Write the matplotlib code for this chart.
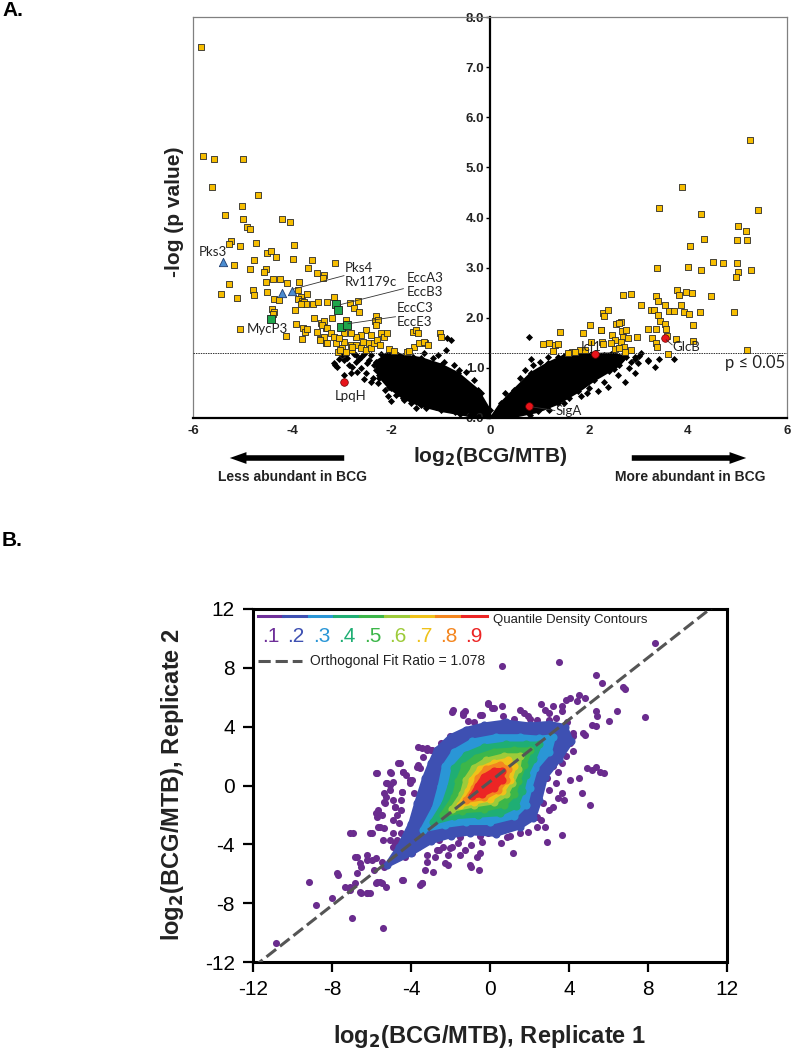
import numpy as np
import matplotlib
matplotlib.use('Agg')
import matplotlib.pyplot as plt
from matplotlib.patches import FancyArrowPatch
from matplotlib.lines import Line2D

plt.rcParams['axes.unicode_minus'] = False

W, H = 791, 1050
FONT = 'Liberation Sans'
GENE_FONT = 'Lato'

# ---------------- panel A: volcano plot data ----------------
p_cut = 1.30  # -log10(0.05)

# significant proteins (yellow squares)
sig_left = [(-5.83, 7.40), (-5.80, 5.23), (-5.57, 5.16), (-5.00, 5.17), (-5.61, 4.60), (-4.68, 4.44),
            (-5.01, 4.23), (-5.36, 4.04), (-4.98, 3.97), (-4.21, 3.98), (-4.05, 3.92), (-4.90, 3.82),
            (-4.85, 3.77), (-5.24, 3.54), (-5.28, 3.47), (-5.05, 3.44), (-4.72, 3.49), (-3.96, 3.46),
            (-5.18, 3.05), (-4.76, 3.16), (-4.50, 3.30), (-4.42, 3.34), (-4.32, 3.21), (-3.97, 3.17),
            (-3.60, 3.15), (-3.13, 3.10), (-4.84, 2.98), (-4.52, 2.98), (-4.56, 2.91), (-3.68, 2.99),
            (-3.49, 2.89), (-3.35, 2.85), (-3.38, 2.79), (-5.28, 2.68), (-5.43, 2.48), (-5.11, 2.40),
            (-4.79, 2.56), (-4.77, 2.46), (-4.53, 2.71), (-4.39, 2.77), (-4.24, 2.77), (-4.10, 2.69),
            (-3.85, 2.71), (-4.50, 2.52), (-4.37, 2.38), (-4.27, 2.36), (-3.87, 2.55), (-3.81, 2.41),
            (-3.70, 2.47), (-3.87, 2.37), (-3.80, 2.33), (-3.80, 2.29), (-3.75, 2.31), (-3.72, 2.27),
            (-3.82, 2.27), (-3.57, 2.27), (-3.48, 2.31), (-3.30, 2.31), (-3.16, 2.41), (-2.83, 2.30),
            (-2.66, 2.34), (-2.75, 2.19), (-2.65, 2.11), (-2.31, 2.04), (-2.33, 1.94), (-4.41, 2.17),
            (-4.37, 2.11), (-4.39, 2.08), (-3.93, 2.16), (-5.06, 1.78), (-4.13, 1.64), (-3.91, 1.88),
            (-3.77, 1.80), (-3.73, 1.72), (-3.70, 1.78), (-3.79, 1.58), (-3.56, 2.00), (-3.42, 1.90),
            (-3.35, 1.94), (-3.32, 1.79), (-3.39, 1.86), (-3.49, 1.72), (-3.44, 1.57), (-3.32, 1.49),
            (-3.29, 1.79), (-3.22, 1.69), (-3.16, 1.62), (-3.35, 1.62), (-3.43, 1.56), (-3.29, 1.49),
            (-3.12, 1.49), (-3.08, 1.32), (-2.98, 1.39), (-2.91, 1.32), (-2.81, 1.46), (-2.78, 1.36),
            (-2.71, 1.46), (-2.61, 1.39), (-2.56, 1.52), (-2.51, 1.36), (-2.44, 1.49), (-2.41, 1.39),
            (-2.34, 1.49), (-2.29, 1.56), (-2.23, 1.46), (-2.21, 1.69), (-2.14, 1.62), (-2.09, 1.69),
            (-2.27, 1.96), (-2.31, 1.86), (-2.51, 1.76), (-2.61, 1.66), (-2.41, 1.66), (-2.71, 1.62),
            (-2.79, 1.42), (-2.81, 1.69), (-2.95, 1.52), (-3.03, 1.36), (-2.04, 1.37), (-1.94, 1.34),
            (-1.67, 1.32), (-1.55, 1.72), (-1.50, 1.76), (-1.46, 1.69), (-1.53, 1.42), (-1.43, 1.49),
            (-1.32, 1.50), (-1.02, 1.70), (-1.00, 1.62), (-1.33, 1.52), (-1.26, 1.46), (-1.63, 1.34),
            (-2.95, 1.70), (-3.05, 1.60), (-2.90, 1.95), (-3.20, 2.00)]
sig_right = [(5.26, 5.55), (3.88, 4.61), (3.41, 4.18), (5.41, 4.15), (4.26, 4.07), (5.00, 3.83),
             (5.18, 3.73), (4.33, 3.58), (4.99, 3.55), (5.20, 3.55), (4.05, 3.43), (4.51, 3.11),
             (4.71, 3.10), (4.98, 3.10), (3.37, 2.99), (3.99, 3.02), (4.26, 2.95), (5.28, 2.95),
             (5.01, 2.91), (4.97, 2.81), (2.69, 2.46), (2.85, 2.48), (3.36, 2.44), (3.77, 2.55),
             (3.82, 2.45), (3.95, 2.51), (4.08, 2.50), (4.47, 2.44), (3.39, 2.33), (3.06, 2.26),
             (3.54, 2.26), (3.61, 2.14), (3.86, 2.26), (3.26, 2.16), (3.31, 2.15), (3.72, 2.13),
             (3.92, 2.12), (4.03, 2.08), (4.25, 2.12), (4.93, 2.12), (2.29, 2.09), (2.30, 2.03),
             (2.38, 2.16), (3.39, 2.06), (3.43, 1.94), (3.53, 1.87), (4.10, 1.85), (2.02, 1.86),
             (2.54, 1.88), (2.65, 1.92), (2.60, 1.89), (2.67, 1.74), (2.75, 1.76), (2.24, 1.75),
             (1.42, 1.72), (1.88, 1.70), (2.47, 1.66), (2.69, 1.61), (2.78, 1.60), (3.20, 1.78),
             (3.36, 1.78), (3.56, 1.78), (2.97, 1.62), (3.27, 1.59), (3.36, 1.49), (3.37, 1.42),
             (3.76, 1.57), (4.11, 1.54), (3.58, 1.64), (2.52, 1.56), (2.44, 1.49), (2.65, 1.52),
             (2.27, 1.52), (2.28, 1.47), (2.52, 1.38), (2.71, 1.42), (2.73, 1.31), (2.85, 1.36),
             (1.82, 1.36), (1.92, 1.36), (1.65, 1.32), (1.57, 1.29), (1.07, 1.47), (1.19, 1.49),
             (1.32, 1.45), (1.38, 1.47), (1.27, 1.34), (3.60, 1.28), (5.20, 1.35), (2.25, 1.76),
             (1.71, 1.32), (2.60, 1.40), (2.05, 1.52)]

# non-significant proteins: outline of the dense core plus the scattered points around it
cloud_left = [(-2.30, 1.12), (-2.10, 1.25), (-1.87, 1.26), (-1.40, 1.19), (-0.99, 1.06), (-0.65, 0.89),
              (-0.25, 0.56), (-0.01, 0.16), (0.0, 0.02), (-0.25, 0.02), (-0.60, 0.08), (-1.00, 0.15),
              (-1.40, 0.25), (-1.75, 0.40), (-2.05, 0.62), (-2.25, 0.85)]
cloud_right = [(0.02, 0.0), (0.22, 0.29), (0.49, 0.56), (0.83, 0.89), (1.17, 1.09), (1.50, 1.24),
               (2.04, 1.27), (2.45, 1.28), (2.75, 1.22), (2.60, 1.05), (2.40, 0.93), (2.11, 0.76),
               (1.78, 0.53), (1.37, 0.29), (0.97, 0.13), (0.49, 0.03), (0.20, 0.0)]
ns_left = [(-3.15, 1.09), (-3.10, 1.02), (-3.13, 1.06), (-2.88, 1.19), (-2.78, 1.02), (-2.81, 0.89),
           (-2.68, 0.92), (-2.95, 0.86), (-2.07, 0.43), (-2.00, 0.33), (-1.50, 0.19), (-0.92, 1.12),
           (-0.89, 1.36), (-0.79, 1.56), (-0.86, 1.59), (-2.61, 1.22), (-2.71, 1.12), (-2.48, 1.09),
           (-2.21, 1.02), (-2.37, 0.79), (-2.27, 0.69), (-2.00, 0.59), (-1.90, 0.46), (-1.73, 0.36),
           (-1.26, 0.29), (-1.16, 1.19), (-1.33, 1.29), (-0.72, 1.06), (-0.49, 0.92), (-0.32, 0.76),
           (-0.18, 0.49), (-0.86, 0.23), (-3.00, 1.25), (-2.90, 1.28), (-2.75, 1.27), (-2.55, 1.27),
           (-2.40, 1.26), (-2.20, 1.27), (-2.05, 1.27), (-1.85, 1.25), (-1.55, 1.22), (-1.70, 1.05),
           (-1.95, 0.95), (-2.15, 0.85), (-1.45, 0.35), (-1.10, 0.22), (-0.70, 0.12), (-0.40, 0.05),
           (-0.62, 0.95), (-1.05, 1.25), (-2.95, 1.15), (-2.85, 1.05), (-2.60, 1.00), (-2.50, 0.90),
           (-2.65, 1.18), (-2.45, 1.15), (-2.35, 1.05), (-2.30, 0.95), (-2.55, 0.78), (-2.40, 0.72),
           (-2.25, 0.80), (-3.05, 1.18), (-2.70, 1.25), (-2.20, 1.15), (-2.10, 1.20), (-1.60, 0.30),
           (-1.85, 0.50), (-1.30, 0.20), (-2.12, 0.55)]
ns_right = [(0.79, 1.62), (3.19, 1.14), (3.34, 1.02), (3.41, 1.18), (3.72, 1.18), (2.92, 1.17),
            (3.00, 1.24), (0.46, 0.44), (0.83, 1.17), (0.86, 1.06), (1.00, 1.12), (1.17, 1.22),
            (1.37, 1.22), (1.57, 1.29), (2.31, 0.72), (2.38, 0.62), (2.59, 0.86), (2.92, 0.89),
            (2.72, 0.72), (2.18, 0.53), (1.84, 0.43), (2.99, 1.09), (3.19, 1.16), (2.92, 1.22),
            (3.06, 1.29), (0.30, 0.50), (0.60, 0.80), (0.70, 0.95), (1.80, 1.28), (2.10, 1.27),
            (2.30, 1.26), (2.50, 1.28), (2.70, 1.25), (1.50, 0.30), (1.20, 0.15), (0.80, 0.05),
            (2.00, 0.60), (2.80, 1.00), (2.85, 1.12), (2.65, 1.15), (2.50, 0.98), (1.60, 0.40),
            (1.95, 0.50)]

esx3_pts = [(-3.11, 2.28), (-3.08, 2.16), (-3.02, 1.82), (-2.88, 1.86), (-4.43, 1.97)]
pks_pts = [(-5.40, 3.11), (-4.21, 2.50), (-3.99, 2.53)]
ref_pts = [(-2.94, 0.72), (2.13, 1.28), (3.54, 1.59), (0.78, 0.23)]  # LpqH, Icl1, GlcB, SigA

gene_labels = ['Pks3', 'Pks4', 'Rv1179c', 'EccA3', 'EccB3', 'EccC3', 'EccE3', 'MycP3',
               'LpqH', 'Icl1', 'GlcB', 'SigA']
label_x = [-5.88, -2.93, -2.93, -1.68, -1.68, -1.89, -1.89, -4.91, -3.13, 1.84, 3.68, 1.33]
label_y = [3.31, 2.99, 2.71, 2.80, 2.52, 2.19, 1.92, 1.78, 0.44, 1.42, 1.41, 0.13]
leaders = [((-3.98, 2.57), (-2.95, 2.84)), ((-3.03, 2.26), (-1.75, 2.58)),
           ((-2.87, 1.88), (-1.91, 2.02)), ((3.56, 1.56), (3.68, 1.46)), ((0.86, 0.22), (1.31, 0.15))]

# ---------------- panel B: replicate correlation data ----------------
fit_slope = 1.053
fit_intercept = 0.27
quantiles = ['.1', '.2', '.3', '.4', '.5', '.6', '.7', '.8', '.9']
q_colors = ['#6e2f99', '#3e50b2', '#2a96d6', '#1fae74', '#3cb649', '#9dcb3a', '#efc21a', '#f4861f', '#ec2525']

# quantile density contour outlines (.2 ... .9)
contours = [
    [(-5.2, -5.4), (-4.6, -4.2), (-4.0, -2.6), (-3.7, -1.2), (-3.3, 0.5), (-3.0, 1.5), (-2.7, 2.4),
     (-2.0, 3.3), (-1.2, 3.8), (-0.3, 4.1), (0.8, 4.3), (2.0, 4.1), (3.0, 4.2), (3.8, 4.0), (4.1, 3.0),
     (3.5, 1.8), (2.8, 0.6), (2.5, -1.0), (2.2, -2.2), (1.5, -2.8), (0.3, -3.3), (-1.0, -3.2),
     (-2.0, -3.4), (-3.0, -3.8), (-4.0, -4.6)],
    [(-3.4, -3.0), (-2.8, -1.5), (-2.5, 0.0), (-2.3, 1.3), (-1.8, 2.3), (-0.9, 3.0), (0.3, 3.3),
     (1.5, 3.3), (2.5, 3.2), (3.2, 3.3), (3.0, 2.3), (2.3, 1.2), (2.0, -0.2), (1.8, -1.3), (1.2, -2.1),
     (0.0, -2.5), (-1.2, -2.5), (-2.3, -2.7)],
    [(-2.9, -2.5), (-2.3, -1.2), (-2.0, 0.0), (-1.8, 1.2), (-1.2, 2.1), (-0.3, 2.6), (0.8, 2.8),
     (1.8, 2.8), (2.5, 2.8), (2.2, 1.8), (1.8, 0.7), (1.6, -0.4), (1.3, -1.4), (0.5, -1.9), (-0.6, -2.0),
     (-1.8, -2.1)],
    [(-2.4, -2.0), (-1.8, -0.8), (-1.6, 0.3), (-1.3, 1.3), (-0.7, 1.9), (0.2, 2.3), (1.2, 2.4),
     (2.0, 2.4), (1.7, 1.4), (1.4, 0.3), (1.2, -0.6), (0.7, -1.3), (-0.3, -1.6), (-1.4, -1.7)],
    [(-1.9, -1.6), (-1.4, -0.6), (-1.2, 0.4), (-0.8, 1.2), (-0.2, 1.7), (0.7, 2.0), (1.5, 2.0),
     (1.4, 1.1), (1.1, 0.2), (0.8, -0.6), (0.2, -1.1), (-0.8, -1.3)],
    [(-1.5, -1.3), (-1.1, -0.4), (-0.9, 0.4), (-0.5, 1.1), (0.2, 1.5), (0.9, 1.7), (1.2, 1.3),
     (1.0, 0.4), (0.6, -0.4), (0.0, -0.9), (-0.8, -1.1)],
    [(-1.2, -1.0), (-0.8, -0.2), (-0.6, 0.5), (-0.2, 1.1), (0.5, 1.4), (0.9, 1.1), (0.8, 0.4),
     (0.4, -0.3), (-0.3, -0.8)],
    [(-0.9, -0.7), (-0.6, 0.0), (-0.3, 0.6), (0.2, 1.0), (0.6, 1.0), (0.6, 0.4), (0.2, -0.2),
     (-0.4, -0.6)],
]

# points outside the contours
outliers = [(8.36, 9.70), (3.49, 8.42), (0.60, 8.15), (5.36, 7.49), (5.66, 6.97), (6.75, 6.70),
            (6.86, 6.58), (7.84, 4.65), (6.43, 5.04), (6.00, 4.36), (5.36, 5.04), (5.40, 4.70),
            (4.50, 6.18), (4.07, 5.95), (3.86, 5.84), (3.64, 5.38), (4.39, 5.72), (4.82, 5.95),
            (4.71, 3.56), (4.82, 3.45), (5.36, 4.02), (5.14, 4.13), (4.18, 3.34), (4.07, 2.88),
            (4.18, 2.32), (3.86, 1.98), (3.64, 1.52), (3.43, 0.95), (4.93, 1.18), (5.14, 1.07),
            (5.57, 0.95), (5.79, 0.84), (5.36, 1.29), (4.50, 0.50), (4.07, 0.39), (4.67, -0.52),
            (5.08, -1.32), (3.64, -0.52), (3.43, -0.86), (3.75, -0.98), (3.32, 0.16), (3.21, -1.43),
            (3.00, -1.66), (3.64, -3.36), (2.89, -3.81), (1.18, -4.61), (2.36, -2.11), (2.57, -2.34),
            (2.79, -2.79), (1.50, -3.25), (0.54, -3.93), (-0.11, -3.25), (-0.43, -3.81), (-0.64, -4.84),
            (-0.96, -4.04), (-1.29, -4.38), (-1.61, -3.93), (-1.93, -4.16), (-0.96, -5.52), (-0.54, -5.74),
            (-2.14, -4.72), (-2.36, -4.16), (-2.57, -4.38), (-2.79, -4.84), (-2.14, -5.40), (-3.17, -5.18),
            (-3.43, -6.65), (-3.54, -6.77), (-3.96, -4.61), (-4.29, -4.84), (-4.41, -6.43), (-5.25, -6.88),
            (-5.57, -6.54), (-5.79, -6.65), (-5.42, -9.67), (-7.01, -8.99), (-6.06, -7.33), (-6.21, -7.33),
            (-6.54, -7.33), (-7.07, -6.88), (-6.86, -6.65), (-7.71, -6.09), (-6.75, -5.97), (-6.54, -5.52),
            (-6.21, -5.06), (-6.75, -4.84), (-5.79, -4.95), (-5.46, -5.18), (-5.36, -5.52), (-5.89, -5.74),
            (-4.93, -4.16), (-4.82, -3.93), (-5.04, -3.70), (-7.99, -7.67), (-8.79, -8.13), (-9.15, -6.54),
            (-10.82, -10.74), (-6.96, -3.25), (-6.00, -3.25), (-5.68, -2.79), (-5.36, -2.91), (-5.79, -1.88),
            (-5.68, -1.66), (-5.46, -2.00), (-5.36, -1.09), (-5.25, -0.75), (-4.93, -0.98), (-4.82, -1.43),
            (-4.50, -1.66), (-5.36, -0.52), (-5.04, 0.05), (-4.93, 0.27), (-5.25, 0.16), (-5.79, 0.84),
            (-4.99, 0.84), (-4.56, 1.52), (-4.39, 0.95), (-4.24, 0.73), (-3.96, 0.39), (-3.64, 1.41),
            (-3.54, 1.18), (-4.46, -0.41), (-4.50, -0.98), (-4.93, -2.34), (-4.61, -2.57), (-4.50, -3.25),
            (-4.29, -3.47), (-3.43, 2.54), (-3.21, 2.54), (-3.00, 2.43), (-2.36, 2.20), (-2.68, 1.75),
            (-2.04, 3.34), (-1.89, 5.11), (-1.29, 5.04), (-1.39, 4.81), (-1.11, 4.36), (-0.43, 4.81),
            (-0.11, 5.56), (0.21, 5.27), (0.60, 5.38), (0.64, 4.70), (1.50, 5.15), (1.71, 4.93),
            (1.93, 4.70), (2.57, 5.56), (2.79, 5.15), (3.00, 4.93), (3.21, 5.38), (3.32, 4.59),
            (3.00, 4.47), (2.36, 4.47), (3.64, 5.04), (-1.93, 3.11), (-2.04, 2.88), (-4.07, 0.16),
            (-3.86, -0.52), (-3.64, -4.16), (-3.86, -3.25), (-2.57, -3.70), (-1.50, -3.47), (0.86, -3.47),
            (1.93, -3.13), (-1.94, 5.02), (-1.35, 4.91), (-0.51, 4.79), (-0.09, 5.59), (0.08, 5.25),
            (-5.74, 0.83), (-5.06, 0.94), (-5.23, 0.15), (-5.06, -0.31), (-4.64, 1.51), (-4.39, 0.94),
            (-4.05, 0.37), (-4.47, -0.42), (-5.32, -1.21), (-5.66, -1.89), (-5.74, -2.12), (-4.81, -1.44),
            (-4.72, -2.00), (-7.09, -3.25), (-6.08, -3.25), (-5.57, -2.80), (-5.40, -3.70), (-4.89, -3.25),
            (-4.72, -3.70), (-6.84, -4.84), (-6.58, -5.29), (-6.24, -4.72), (-5.99, -5.07), (-7.76, -5.97),
            (-7.34, -6.88), (-7.09, -7.10), (-6.58, -7.22), (-6.24, -7.33), (-5.74, -6.54), (-5.48, -6.65),
            (-4.47, -6.42), (-3.46, -6.65), (-3.29, -5.74), (-2.87, -5.86), (-2.28, -5.29), (-1.52, -4.72),
            (-1.01, -5.40), (-0.51, -4.61), (-2.03, -4.27), (-2.70, -4.38), (-3.21, -4.72), (-4.22, -4.16),
            (-4.05, -4.50), (-3.63, 2.64), (-3.21, 2.41), (-2.95, 2.41), (-3.38, 1.96), (-3.71, 1.28),
            (2.9, 0.5), (3.0, -0.3), (2.7, -1.2), (2.4, -2.8), (1.0, -3.4), (-0.5, -3.4), (1.2, 4.5),
            (2.0, 4.5), (-0.8, 4.3), (-2.5, 2.9), (3.9, 4.3), (4.2, 3.6), (3.7, 2.5), (3.2, 1.3)]


def fx(px):
    return px / W


def fy(py):
    return 1 - py / H


fig = plt.figure(figsize=(W / 100, H / 100), dpi=100)

# =============== panel A ===============
axA = fig.add_axes([fx(193), fy(418), 594 / W, 401 / H])
axA.set_xlim(-6, 6)
axA.set_ylim(0, 8)

for ring in (cloud_left, cloud_right):
    r = np.array(ring)
    axA.fill(r[:, 0], r[:, 1], facecolor='black', edgecolor='black', lw=2, joinstyle='round', zorder=1)
    axA.scatter(r[:, 0], r[:, 1], marker='D', s=13, c='black', lw=0, zorder=2)
ns = np.array(ns_left + ns_right)
axA.scatter(ns[:, 0], ns[:, 1], marker='D', s=13, c='black', lw=0, zorder=2)

axA.axhline(p_cut, color='#333333', lw=0.7, ls=(0, (1.5, 1.0)), zorder=3)

sig = np.array(sig_left + sig_right)
axA.scatter(sig[:, 0], sig[:, 1], marker='s', s=17, facecolor='#f6bd00', edgecolor='#2a2a2a',
            lw=0.6, zorder=4)
e = np.array(esx3_pts)
axA.scatter(e[:, 0], e[:, 1], marker='s', s=30, facecolor='#1fa64b', edgecolor='#1a1a1a', lw=0.6, zorder=5)
p = np.array(pks_pts)
axA.scatter(p[:, 0], p[:, 1], marker='^', s=36, facecolor='#4b8cd0', edgecolor='#1f3c6e', lw=0.6, zorder=5)
rp = np.array(ref_pts)
axA.scatter(rp[:, 0], rp[:, 1], marker='o', s=30, facecolor='#e8141b', edgecolor='#6a0000', lw=0.5, zorder=5)

for name, lx, ly in zip(gene_labels, label_x, label_y):
    axA.text(lx, ly, name, ha='left', va='center', fontsize=9.5, family=GENE_FONT, color='#222222', zorder=6)
for (x0, y0), (x1, y1) in leaders:
    axA.plot([x0, x1], [y0, y1], color='#333333', lw=0.6, zorder=6)
axA.text(4.75, 1.10, 'p \u2264 0.05', ha='left', va='center', fontsize=12, family=GENE_FONT, color='#222222')

for s in ('top', 'right'):
    axA.spines[s].set_color('#808080')
    axA.spines[s].set_linewidth(0.9)
axA.plot([0, 0], [0, 1], transform=axA.transAxes, color='#808080', lw=0.9, clip_on=False)
axA.spines['left'].set_position(('data', 0))
axA.spines['left'].set_linewidth(1.6)
axA.spines['bottom'].set_linewidth(1.6)

axA.set_yticks(np.arange(0, 9))
axA.set_yticklabels([f'{v:.1f}' for v in np.arange(0, 9)])
axA.set_xticks(np.arange(-6, 7, 2))
axA.tick_params(axis='y', direction='out', length=3, width=1, pad=1, labelsize=9.5)
axA.tick_params(axis='x', length=0, pad=5, labelsize=9.5)
for lab in axA.get_xticklabels() + axA.get_yticklabels():
    lab.set_fontweight('bold')
    lab.set_family(FONT)
    lab.set_color('#222222')

fig.text(fx(174), fy(212), '-log (p value)', rotation=90, ha='center', va='center',
         fontsize=15, fontweight='bold', family=FONT, color='#222222')
fig.text(fx(490), fy(457), r'log$_\mathbf{2}$(BCG/MTB)', ha='center', va='center',
         fontsize=15, fontweight='bold', family=FONT, color='#222222')
fig.text(fx(293), fy(477), 'Less abundant in BCG', ha='center', va='center',
         fontsize=10, fontweight='bold', family=FONT, color='#222222')
fig.text(fx(690), fy(477), 'More abundant in BCG', ha='center', va='center',
         fontsize=10, fontweight='bold', family=FONT, color='#222222')
arrow_style = 'simple,head_length=1.2,head_width=0.85,tail_width=0.4'
for tail, head in (((347, 458), (227, 458)), ((629, 458), (749, 458))):
    fig.add_artist(FancyArrowPatch((fx(tail[0]), fy(tail[1])), (fx(head[0]), fy(head[1])),
                                   transform=fig.transFigure, arrowstyle=arrow_style,
                                   mutation_scale=10, color='black', lw=0))
fig.text(fx(2), fy(11), 'A.', ha='left', va='center', fontsize=15, fontweight='bold', family=FONT)

# =============== panel B ===============
axB = fig.add_axes([fx(253), fy(962), 474 / W, 353 / H])
axB.set_xlim(-12, 12)
axB.set_ylim(-12, 12)

o = np.array(outliers)
axB.scatter(o[:, 0], o[:, 1], s=26, c='#6a2c8e', lw=0, zorder=1)
for k, (ring, col) in enumerate(zip(contours, q_colors[1:])):
    r = np.array(ring)
    axB.fill(r[:, 0], r[:, 1], facecolor=col, edgecolor=col, lw=4, joinstyle='round', zorder=2 + k)
    axB.scatter(r[:, 0], r[:, 1], s=34, c=col, lw=0, zorder=2 + k)

fx_line = np.array([-12, 12])
axB.plot(fx_line, fit_intercept + fit_slope * fx_line, color='#555555', lw=2.2, dashes=(4, 1.6), zorder=20)

for s in axB.spines.values():
    s.set_linewidth(2.2)
axB.set_xticks(np.arange(-12, 13, 4))
axB.set_yticks(np.arange(-12, 13, 4))
axB.tick_params(direction='out', length=7, width=1.6, pad=6, labelsize=15)
for lab in axB.get_xticklabels() + axB.get_yticklabels():
    lab.set_family(FONT)

fig.text(fx(173), fy(785), r'log$_\mathbf{2}$(BCG/MTB), Replicate 2', rotation=90, ha='center', va='center',
         fontsize=17, fontweight='bold', family=FONT, color='#222222')
fig.text(fx(490), fy(1037), r'log$_\mathbf{2}$(BCG/MTB), Replicate 1', ha='center', va='center',
         fontsize=17, fontweight='bold', family=FONT, color='#222222')
fig.text(fx(2), fy(540), 'B.', ha='left', va='center', fontsize=15, fontweight='bold', family=FONT)

# legend strip for the quantile contours
seg = (487 - 258) / len(quantiles)
for i, (q, col) in enumerate(zip(quantiles, q_colors)):
    x0 = 258 + i * seg
    fig.add_artist(Line2D([fx(x0), fx(x0 + seg)], [fy(616), fy(616)], color=col, lw=2.2,
                          transform=fig.transFigure))
    fig.text(fx(x0 + seg / 2), fy(636), q, color=col, ha='center', va='center', fontsize=15, family=FONT)
fig.text(fx(493), fy(620), 'Quantile Density Contours', ha='left', va='center', fontsize=9.5,
         family=FONT, color='#222222')
fig.add_artist(Line2D([fx(258), fx(302)], [fy(661), fy(661)], color='#555555', lw=2.2, dashes=(4, 1.6),
                      transform=fig.transFigure))
fig.text(fx(310), fy(661), 'Orthogonal Fit Ratio = 1.078', ha='left', va='center', fontsize=10,
         family=FONT, color='#222222')

fig.savefig('out.png', dpi=100)
